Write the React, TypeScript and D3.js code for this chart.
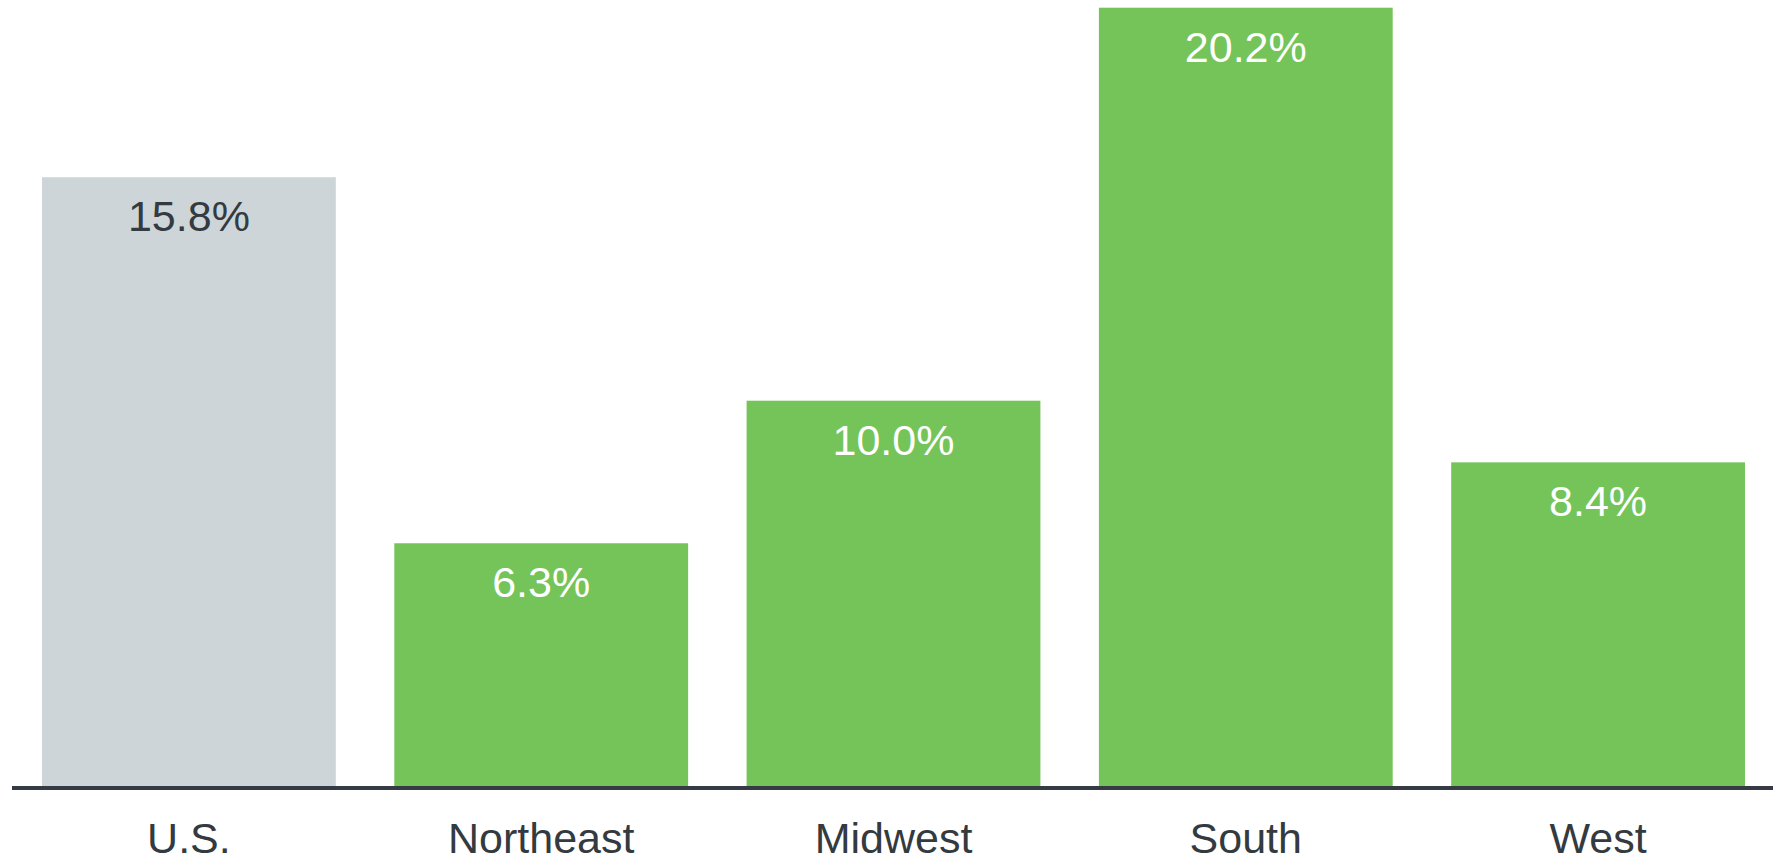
import React from "react";
import * as d3 from "d3";

const categories = ["U.S.", "Northeast", "Midwest", "South", "West"];
const values = [15.8, 6.3, 10.0, 20.2, 8.4];
const highlight = [true, false, false, false, false];

const W = 1781;
const H = 856;
const baseY = 786;

export default function App() {
  const x = d3
    .scaleBand<string>()
    .domain(categories)
    .range([42, 1745])
    .paddingInner(0.166)
    .paddingOuter(0);
  const y = d3.scaleLinear().domain([0, 20.4]).range([baseY, 0]);
  const font = "'Liberation Sans', Arial, Helvetica, sans-serif";
  return (
    <svg
      width={W}
      height={H}
      style={{ position: "absolute", left: 0, top: 0, background: "#fff" }}
    >
      {categories.map((c, i) => {
        const bx = x(c)!;
        const bw = x.bandwidth();
        const top = y(values[i]);
        return (
          <g key={c}>
            <rect
              x={bx}
              y={top}
              width={bw}
              height={baseY - top}
              fill={highlight[i] ? "#CDD5D8" : "#75C45A"}
            />
            <text
              x={bx + bw / 2}
              y={top + 54}
              textAnchor="middle"
              fontFamily={font}
              fontSize={43}
              fill={highlight[i] ? "#333A40" : "#ffffff"}
            >
              {d3.format(".1f")(values[i]) + "%"}
            </text>
            <text
              x={bx + bw / 2}
              y={853}
              textAnchor="middle"
              fontFamily={font}
              fontSize={43}
              fill="#333A40"
            >
              {c}
            </text>
          </g>
        );
      })}
      <line x1={12} x2={1773} y1={788} y2={788} stroke="#353B42" strokeWidth={4} />
    </svg>
  );
}
